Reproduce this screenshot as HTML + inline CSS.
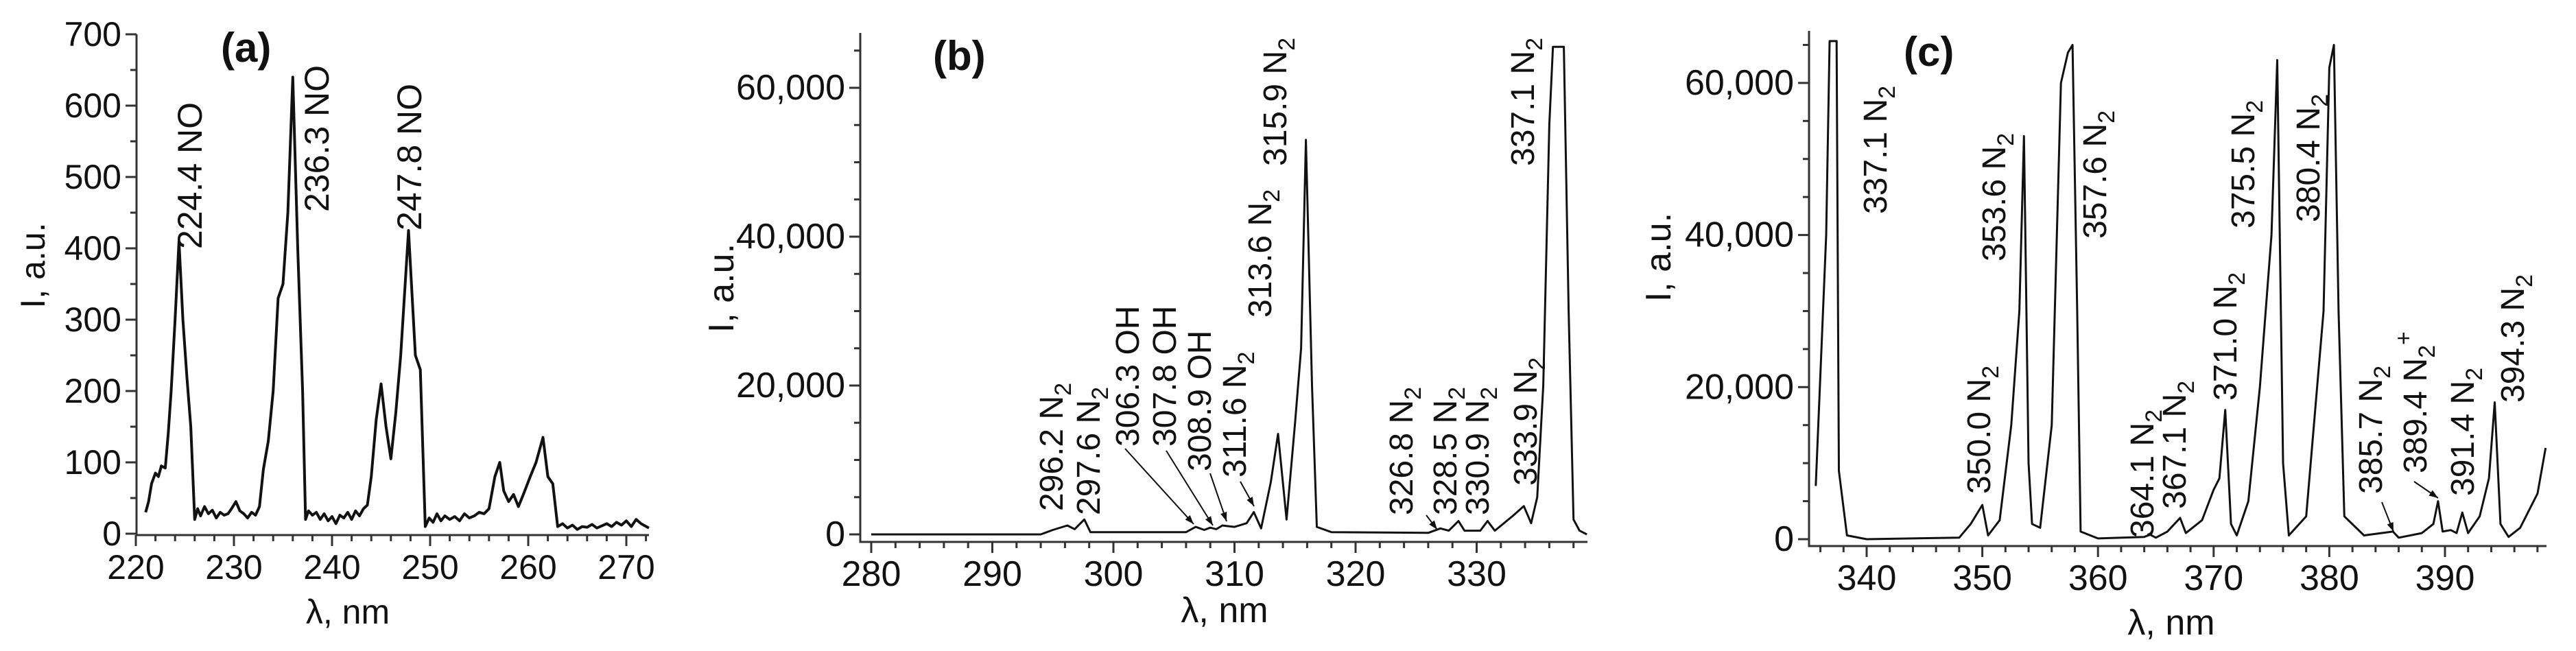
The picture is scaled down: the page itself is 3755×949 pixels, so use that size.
<!DOCTYPE html>
<html><head><meta charset="utf-8"><style>
html,body{margin:0;padding:0;background:#fff;}
svg{display:block;font-family:"Liberation Sans",Arial,sans-serif;}
</style></head><body>
<svg id="fig" width="3755" height="949" viewBox="0 0 3755 949" xmlns="http://www.w3.org/2000/svg"></svg>
<script>
// ---- Panel (a) data ----
const aWl  = [221,221.3,221.6,222,222.3,222.6,223,223.3,223.6,224,224.4,224.8,225.2,225.6,226,226.3,226.6,227,227.4,227.8,228.2,228.6,229,229.4,229.8,230.2,230.6,231,231.4,231.8,232.2,232.6,233,233.5,234,234.5,235,235.5,236.0,236.5,237,237.3,237.6,238,238.4,238.8,239.2,239.6,240,240.4,240.8,241.2,241.6,242,242.4,242.8,243.2,243.6,244,244.5,245,245.5,246,246.5,247,247.8,248.5,249,249.5,249.9,250.3,250.7,251.1,251.5,252,252.5,253,253.5,254,254.5,255,255.5,256,256.6,257.1,257.5,258,258.5,259,259.5,260.2,260.8,261.5,262,262.5,263,263.5,264,264.5,265,265.5,266,266.5,267,267.5,268,268.5,269,269.5,270,270.5,271,271.5,272.3];
const aInt = [30,45,70,85,80,95,92,140,200,300,410,300,220,150,20,35,25,38,28,33,22,30,26,28,36,45,32,28,22,30,26,38,90,130,200,330,350,450,640,400,200,20,32,26,30,20,28,18,24,14,26,22,30,20,32,25,35,40,80,160,210,150,105,170,250,425,250,230,10,22,16,28,18,25,20,24,18,28,22,25,30,28,35,80,100,60,45,55,38,55,80,100,135,80,70,10,14,8,12,6,10,9,13,8,11,14,10,16,12,18,10,20,14,8,10,8];
const aXTicks = [220,230,240,250,260,270];
const aYTicks = [0,100,200,300,400,500,600,700];
const aYLabels = ["0","100","200","300","400","500","600","700"];
const aPeakLabels = ["224.4 NO","236.3 NO","247.8 NO"];
// ---- Panel (b) data ----
const bWl  = [280,294,295,296.2,296.8,297.6,298.1,306,306.8,307.5,308,308.5,309,310,311,311.6,312.2,313,313.6,314.3,315,315.5,315.9,316.4,316.8,318,326,327,327.7,328.5,329,330.3,330.9,331.5,333,333.9,334.5,335,335.5,336,336.3,337.2,337.6,338,338.5,339.1];
const bInt = [0,0,600,1200,700,2000,300,300,1000,600,900,700,1200,1000,1500,3000,800,7000,13500,2000,15000,25000,53000,20000,1000,300,200,800,500,1800,500,500,1800,500,2500,3800,1500,5000,20000,55000,65500,65500,30000,2000,500,0];
const bXTicks = [280,290,300,310,320,330];
const bYTicks = [0,20000,40000,60000];
const bYLabels = ["0","20,000","40,000","60,000"];
// ---- Panel (c) data ----
const cWl  = [335.6,336.5,336.8,337.4,337.6,338.3,340,348,349,350.0,350.5,351.5,352.5,353.2,353.6,354,354.3,355,356,356.8,357.4,357.8,358.2,358.5,360,364,364.5,365,366,367.1,367.6,369,370,370.5,371,371.5,372,373,374,375,375.5,376,376.5,378,379.5,380,380.4,380.8,381.3,383,385.5,386,388,389,389.4,389.8,390.5,391,391.5,392,393,393.8,394.3,394.8,395.5,396.5,398,398.7];
const cInt = [7000,40000,65500,65500,9000,500,0,200,2000,4500,500,2500,15000,30000,53000,10000,2000,1500,15000,60000,64000,65000,30000,1000,100,300,600,200,1000,2800,800,2500,6500,8000,17000,2000,500,5000,20000,40000,63000,10000,500,3000,30000,62000,65000,30000,3000,500,1000,200,800,2000,5000,1000,1200,800,3500,800,3000,8000,18000,2000,300,1500,6000,12000];
const cXTicks = [340,350,360,370,380,390];
const cYTicks = [0,20000,40000,60000];
const cYLabels = ["0","20,000","40,000","60,000"];

const NS="http://www.w3.org/2000/svg";
const svg=document.getElementById('fig');
function mk(tag,attrs,parent){const e=document.createElementNS(NS,tag);for(const k in attrs)e.setAttribute(k,attrs[k]);(parent||svg).appendChild(e);return e;}

function panel(p){
  const g=mk('g',{});
  
  
  const X=v=>p.x0+(v-p.xmin)*p.pxPerX;
  const Y=v=>p.zeroY-v*p.pxPerY;
  const ax=mk('path',{d:`M${p.axL} ${p.axTop} L${p.axL} ${p.axY} L${p.axR} ${p.axY}`,fill:'none',stroke:'#333',"stroke-width":3},g);
  
  
  const step=p.xTicks[1]-p.xTicks[0];
  for(let v=p.minorStart; v<=p.xEnd+1e-6; v+=p.xMinor){
    const r=(v-p.xTicks[0])/step;
    const major=Math.abs(r-Math.round(r))<1e-6;
    const t=mk('line',{x1:X(v),x2:X(v),y1:p.axY,y2:p.axY+(major?16:9),stroke:'#333',"stroke-width":3},g);
    
    
  }
  p.xTicks.forEach(v=>{
    const t=mk('text',{x:X(v),y:p.xLabY,"font-size":p.fs,"text-anchor":"middle","dominant-baseline":"central",fill:'#111'},g);
    t.textContent=String(v);
    
    
  });
  for(let v=0; v<=p.yMax+1e-6; v+=p.yMinor){
    const major=p.yTicks.some(t=>Math.abs(t-v)<1e-6);
    const t=mk('line',{x1:p.axL,x2:p.axL-(major?16:9),y1:Y(v),y2:Y(v),stroke:'#333',"stroke-width":3},g);
    
    
  }
  p.yTicks.forEach((v,i)=>{
    const t=mk('text',{x:p.axL-22,y:Y(v),"font-size":p.fs,"text-anchor":"end","dominant-baseline":"central",fill:'#111'},g);
    t.textContent=p.yLabels[i];
    
    
  });
  const xt=mk('text',{x:p.xTitleX,y:p.xTitleY,"font-size":p.fs,"text-anchor":"middle","dominant-baseline":"central",fill:'#111'},g);
  xt.textContent='λ, nm';
  
  
  const yt=mk('text',{transform:`translate(${p.yTitleX},${p.yTitleY}) rotate(-90)`,"font-size":p.fs,"text-anchor":"middle","dominant-baseline":"central",fill:'#111'},g);
  yt.textContent='I, a.u.';
  
  
  const pl=mk('text',{x:p.tagX,y:p.tagY,"font-size":60,"font-weight":"bold",fill:'#111'},g);
  pl.textContent=p.tag;
  
  
  let d='';
  p.wl.forEach((w,i)=>{d+=(i?'L':'M')+X(w).toFixed(1)+' '+Y(p.val[i]).toFixed(1);});
  const ln=mk('path',{d:d,fill:'none',stroke:'#111',"stroke-width":p.lw,"stroke-linejoin":"round"},g);
  
  
  p.labels.forEach(L=>{
    const t=mk('text',{transform:`translate(${L[1]},${L[2]}) rotate(-90)`,"font-size":p.lfs,fill:'#111'},g);
    
    
    const m=L[0].match(/^(.*N)(2)(\+?)$/);
    if(m){
      t.appendChild(document.createTextNode(m[1]));
      const s=mk('tspan',{dy:12,"font-size":34},t);s.textContent='2';
      if(m[3]){const s2=mk('tspan',{dy:-34,"font-size":34},t);s2.textContent='+';}
    } else t.textContent=L[0];
  });
  (p.arrows||[]).forEach(A=>{
    const a=mk('line',{x1:A[0],y1:A[1],x2:A[2],y2:A[3],stroke:'#111',"stroke-width":2},g);
    
    
    const ang=Math.atan2(A[3]-A[1],A[2]-A[0]);const l=14,w=0.35;
    const h=mk('path',{d:`M${A[2]} ${A[3]} L${A[2]-l*Math.cos(ang-w)} ${A[3]-l*Math.sin(ang-w)} L${A[2]-l*Math.cos(ang+w)} ${A[3]-l*Math.sin(ang+w)}Z`,fill:'#111'},g);
    
    
  });
}

panel({name:'panel-a',tag:'(a)',tagX:322,tagY:90,x0:198,xmin:220,pxPerX:14.3,zeroY:778,pxPerY:1.04,
  axL:199,axTop:50,axY:780,axR:946,minorStart:220,xMinor:2,xEnd:272,xTicks:aXTicks,
  yMax:700,yMinor:50,yTicks:aYTicks,yLabels:aYLabels,fs:50,xLabY:827,xTitleX:507,xTitleY:892,yTitleX:48,yTitleY:387,
  wl:aWl,val:aInt,lw:4,lfs:50,
  labels:[[aPeakLabels[0],294,363],[aPeakLabels[1],479,309],[aPeakLabels[2],614,336]]});

panel({name:'panel-b',tag:'(b)',tagX:1360,tagY:102,x0:1270,xmin:280,pxPerX:17.65,zeroY:779,pxPerY:217/20000,
  axL:1254,axTop:48,axY:790,axR:2314,minorStart:280,xMinor:2,xEnd:338.5,xTicks:bXTicks,
  yMax:65000,yMinor:5000,yTicks:bYTicks,yLabels:bYLabels,fs:52,xLabY:837,xTitleX:1785,xTitleY:890,yTitleX:1052,yTitleY:420,
  wl:bWl,val:bInt,lw:3,lfs:48,
  labels:[["296.2 N2",1549,745],["297.6 N2",1603,751],["306.3 OH",1660,651],["307.8 OH",1714,651],["308.9 OH",1765,687],["311.6 N2",1816,696],["313.6 N2",1853,463],["315.9 N2",1875,242],["326.8 N2",2059,751],["328.5 N2",2123,751],["330.9 N2",2170,751],["333.9 N2",2240,708],["337.1 N2",2236,242]],
  arrows:[[1640,654,1740,764],[1700,657,1768,766],[1764,690,1788,760],[1808,702,1828,738],[2079,751,2095,772]]});

panel({name:'panel-c',tag:'(c)',tagX:2775,tagY:96,x0:2721,xmin:340,pxPerX:16.86,zeroY:786,pxPerY:221.7/20000,
  axL:2637,axTop:45,axY:796,axR:3712,minorStart:336,xMinor:2,xEnd:398.7,xTicks:cXTicks,
  yMax:65000,yMinor:5000,yTicks:cYTicks,yLabels:cYLabels,fs:52,xLabY:843,xTitleX:3165,xTitleY:908,yTitleX:2418,yTitleY:375,
  wl:cWl,val:cInt,lw:3,lfs:48,
  labels:[["337.1 N2",2750,312],["350.0 N2",2901,720],["353.6 N2",2923,381],["357.6 N2",3070,348],["364.1 N2",3139,784],["367.1 N2",3186,742],["371.0 N2",3260,584],["375.5 N2",3286,333],["380.4 N2",3381,324],["385.7 N2",3472,720],["389.4 N2+",3537,690],["391.4 N2",3606,723],["394.3 N2",3679,587]],
  arrows:[[3472,732,3489,775],[3519,702,3554,726]]});
</script>
</body></html>
